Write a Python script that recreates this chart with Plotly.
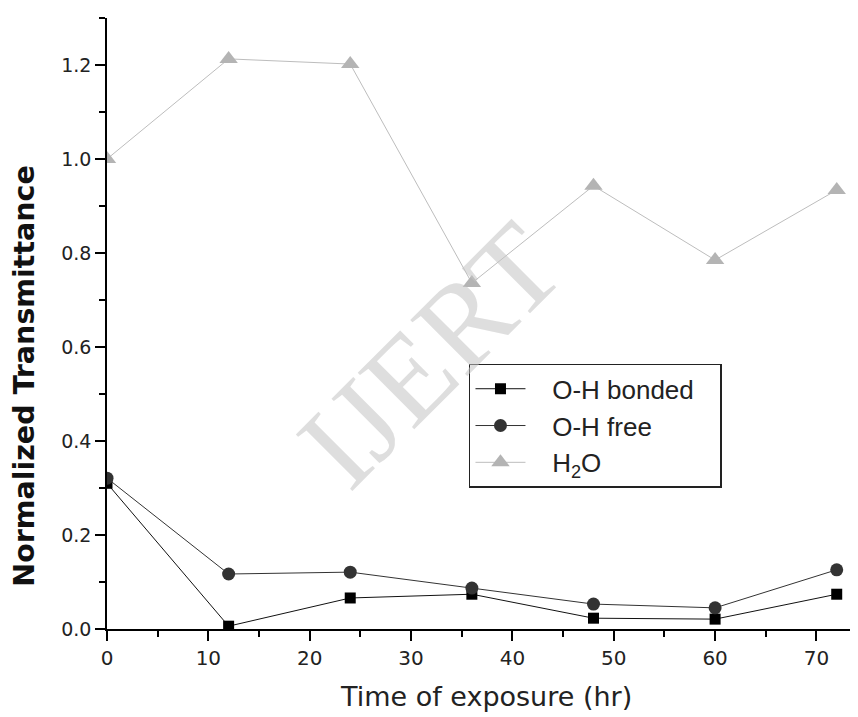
import plotly.graph_objects as go

time_hr = [0, 12, 24, 36, 48, 60, 72]
oh_bonded = [0.31, 0.006, 0.066, 0.074, 0.023, 0.021, 0.074]
oh_free = [0.321, 0.117, 0.121, 0.087, 0.053, 0.045, 0.126]
h2o = [1.0, 1.213, 1.202, 0.736, 0.943, 0.785, 0.934]

NB = "\u00a0\u00a0\u00a0"
TR = "\u00a0\u00a0\u00a0"

fig = go.Figure()
fig.add_trace(go.Scatter(x=time_hr, y=oh_bonded, name=NB + "O-H bonded" + TR, mode="lines+markers",
                         line=dict(color="#111111", width=1),
                         marker=dict(symbol="square", size=11, color="#000000")))
fig.add_trace(go.Scatter(x=time_hr, y=oh_free, name=NB + "O-H free", mode="lines+markers",
                         line=dict(color="#333333", width=1),
                         marker=dict(symbol="circle", size=13, color="#333333")))
fig.add_trace(go.Scatter(x=time_hr, y=h2o, name=NB + "H<sub>2</sub>O", mode="lines+markers",
                         line=dict(color="#bdbdbd", width=1),
                         marker=dict(symbol="triangle-up", size=16, color="#b4b4b4")))

# watermark
fig.add_annotation(text="IJERT", x=0.43, y=0.45, xref="paper", yref="paper",
                   xanchor="center", yanchor="middle",
                   showarrow=False, textangle=-45,
                   font=dict(family="Liberation Serif", size=122, color="rgba(195,195,195,0.55)"))

# axis titles
fig.add_annotation(text="<b>Normalized Transmittance</b>", x=-0.111, y=0.414,
                   xref="paper", yref="paper", showarrow=False, textangle=-90,
                   xanchor="center", yanchor="middle",
                   font=dict(family="DejaVu Sans", size=28.5, color="#111111"))
fig.add_annotation(text="Time of exposure (hr)", x=0.505, y=-0.11,
                   xref="paper", yref="paper", showarrow=False,
                   xanchor="center", yanchor="middle",
                   font=dict(family="DejaVu Sans", size=27, color="#222222"))

fig.update_layout(
    width=850, height=709,
    paper_bgcolor="white", plot_bgcolor="white",
    margin=dict(l=99, r=0, t=10, b=88),
    font=dict(family="Liberation Sans", color="#222222"),
    showlegend=True,
    legend=dict(x=0.482, y=0.434, xanchor="left", yanchor="top",
                bordercolor="#222222", borderwidth=1.5, bgcolor="white",
                font=dict(size=26, family="Liberation Sans", color="#222222"),
                itemwidth=50, tracegroupgap=0),
    xaxis=dict(range=[0, 74.1], showline=True, linecolor="black", linewidth=1.5,
               automargin=False,
               ticks="outside", ticklen=10, tickwidth=1.5, tickcolor="black",
               tickvals=[0, 10, 20, 30, 40, 50, 60, 70],
               minor=dict(ticks="outside", ticklen=6, tickwidth=1.5, tickcolor="black",
                          tickvals=[5, 15, 25, 35, 45, 55, 65]),
               showgrid=False, zeroline=False,
               tickfont=dict(size=20, family="DejaVu Sans", color="#222222")),
    yaxis=dict(range=[0, 1.3], showline=True, linecolor="black", linewidth=1.5,
               automargin=False,
               ticks="outside", ticklen=10, tickwidth=1.5, tickcolor="black",
               tickvals=[0, 0.2, 0.4, 0.6, 0.8, 1.0, 1.2], tickformat=".1f",
               ticksuffix="\u00a0",
               minor=dict(ticks="outside", ticklen=6, tickwidth=1.5, tickcolor="black",
                          tickvals=[0.1, 0.3, 0.5, 0.7, 0.9, 1.1, 1.3]),
               showgrid=False, zeroline=False,
               tickfont=dict(size=19, family="DejaVu Sans", color="#222222")),
)

fig.write_html("out.html")
